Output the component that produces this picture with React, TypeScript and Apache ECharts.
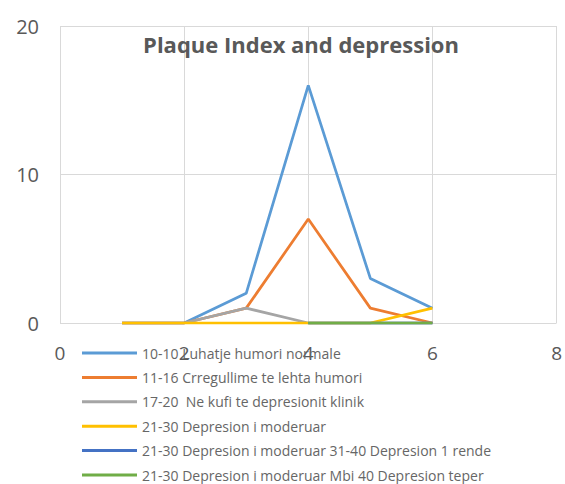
import React, { useEffect, useRef } from "react";
import * as echarts from "echarts";

const xValues = [1, 2, 3, 4, 5, 6];
const seriesNames = [
  "10-10 Luhatje humori normale",
  "11-16 Crregullime te lehta humori",
  "17-20  Ne kufi te depresionit klinik",
  "21-30 Depresion i moderuar",
  "21-30 Depresion i moderuar 31-40 Depresion 1 rende",
  "21-30 Depresion i moderuar Mbi 40 Depresion teper",
];
const normal = [0, 0, 2, 16, 3, 1];
const mild = [0, 0, 1, 7, 1, 0];
const borderline = [0, 0, 1, 0, 0, 0];
const moderate = [0, 0, 0, 0, 0, 1];
const severe = [null, null, null, 0, 0, 0];
const extreme = [null, null, null, 0, 0, 0];
const seriesValues = [normal, mild, borderline, moderate, severe, extreme];
const colors = ["#5B9BD5", "#ED7D31", "#A5A5A5", "#FFC000", "#4472C4", "#70AD47"];
const xTicks = [0, 2, 4, 6, 8];
const yTicks = [0, 10, 20];

export default function App() {
  const ref = useRef<HTMLDivElement>(null);
  useEffect(() => {
    if (!ref.current) return;
    document.body.style.margin = "0";
    const chart = echarts.init(ref.current, undefined, { renderer: "svg" });
    chart.setOption({
      animation: false,
      backgroundColor: "#ffffff",
      color: colors,
      title: {
        text: "Plaque Index and depression",
        left: 296,
        top: 28,
        textAlign: "center",
        textStyle: {
          fontFamily: "Open Sans",
          fontWeight: "bold",
          fontSize: 22,
          color: "#595959",
        },
      },
      grid: { left: 60, right: 2, top: 26, bottom: 161, containLabel: false },
      xAxis: {
        type: "value",
        min: xTicks[0],
        max: xTicks[xTicks.length - 1],
        interval: 2,
        axisLine: { show: false },
        axisTick: { show: false },
        splitLine: { show: true, lineStyle: { color: "#d9d9d9", width: 1 } },
        axisLabel: {
          margin: 20,
          fontFamily: "Open Sans",
          fontSize: 19,
          color: "#595959",
        },
      },
      yAxis: {
        type: "value",
        min: yTicks[0],
        max: yTicks[yTicks.length - 1],
        interval: 10,
        axisLine: { show: false },
        axisTick: { show: false },
        splitLine: { show: true, lineStyle: { color: "#d9d9d9", width: 1 } },
        axisLabel: {
          margin: 21,
          fontFamily: "Open Sans",
          fontSize: 20,
          color: "#595959",
        },
      },
      legend: {
        orient: "vertical",
        left: 82,
        top: 344,
        icon: "rect",
        itemWidth: 55,
        itemHeight: 3,
        itemGap: 6.4,
        padding: 0,
        data: seriesNames,
        textStyle: {
          fontFamily: "Open Sans",
          fontSize: 14,
          lineHeight: 18,
          color: "#666666",
          padding: [0, 0, 0, 0],
        },
      },
      series: seriesNames.map((name, i) => ({
        name,
        type: "line",
        showSymbol: false,
        symbol: "none",
        connectNulls: false,
        lineStyle: { width: 2.75, color: colors[i] },
        itemStyle: { color: colors[i] },
        data: xValues.map((x, j) => [x, seriesValues[i][j]]),
      })),
    });
    return () => chart.dispose();
  }, []);
  return <div ref={ref} style={{ width: 565, height: 484 }} />;
}
